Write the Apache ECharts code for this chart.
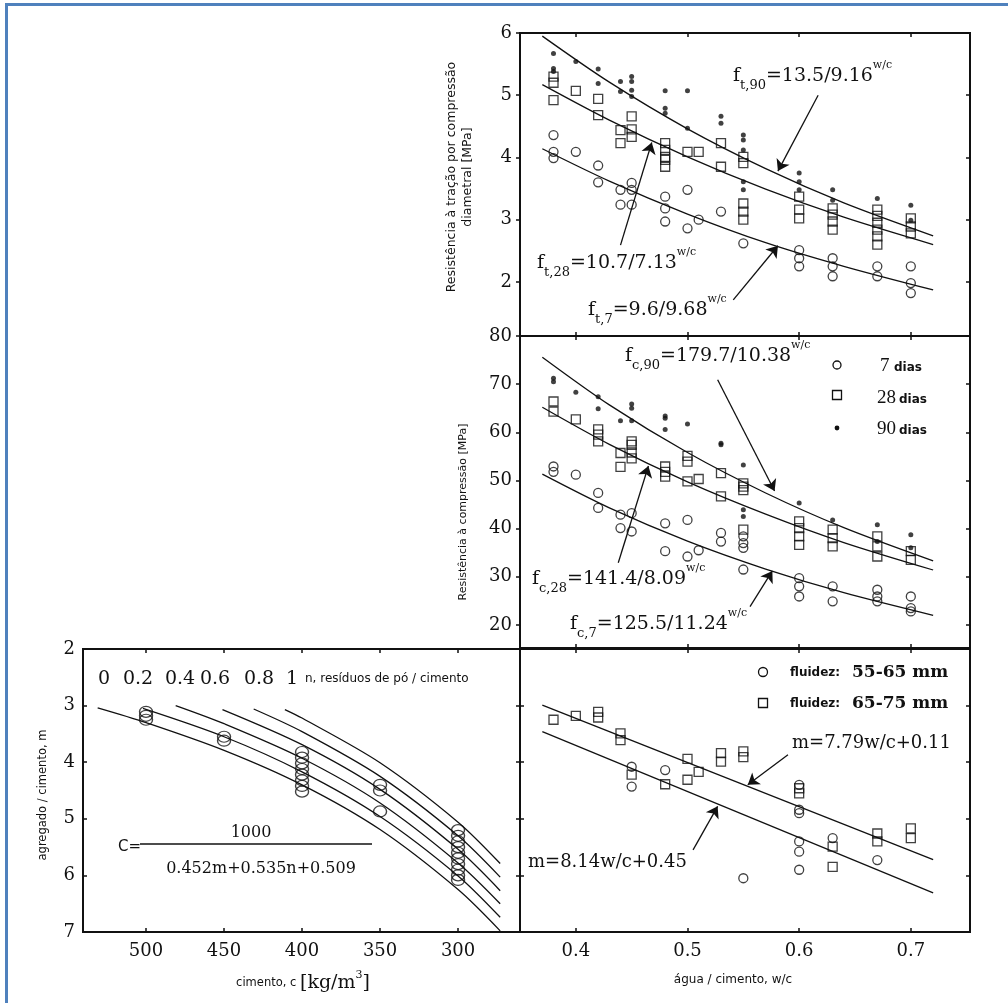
<!DOCTYPE html>
<html><head><meta charset="utf-8">
<script src="https://cdn.jsdelivr.net/npm/echarts@6/dist/echarts.min.js"></script>
<style>html,body{margin:0;padding:0;background:#fff}#c{width:1008px;height:1003px}</style>
</head><body><div id="c"></div>
<script>
// ---------- tick labels ----------
const wcTicks = [0.4, 0.5, 0.6, 0.7];
const tensileTicks = [2, 3, 4, 5, 6];
const compTicks = [20, 30, 40, 50, 60, 70, 80];
const mTicks = [2, 3, 4, 5, 6, 7];
const cementTicks = [300, 350, 400, 450, 500];
const nLabels = ['0', '0.2', '0.4', '0.6', '0.8', '1'];

// ---------- tensile strength (top panel) [w/c, MPa] ----------
const ft7 = [[0.38,4.36],[0.38,4.09],[0.38,3.99],[0.40,4.09],[0.42,3.87],[0.42,3.60],[0.44,3.48],[0.44,3.24],[0.45,3.59],[0.45,3.48],[0.45,3.24],[0.48,3.37],[0.48,3.18],[0.48,2.97],[0.50,3.48],[0.50,2.86],[0.51,3.00],[0.53,3.13],[0.55,2.62],[0.60,2.51],[0.60,2.38],[0.60,2.25],[0.63,2.38],[0.63,2.25],[0.63,2.09],[0.67,2.25],[0.67,2.09],[0.70,2.25],[0.70,1.98],[0.70,1.82]];
const ft28 = [[0.38,5.30],[0.38,5.20],[0.38,4.92],[0.40,5.07],[0.42,4.94],[0.42,4.68],[0.44,4.44],[0.44,4.23],[0.45,4.66],[0.45,4.45],[0.45,4.33],[0.48,4.23],[0.48,4.12],[0.48,4.01],[0.48,3.96],[0.48,3.85],[0.50,4.09],[0.51,4.09],[0.53,4.23],[0.53,3.85],[0.55,4.01],[0.55,3.91],[0.55,3.26],[0.55,3.13],[0.55,3.00],[0.60,3.37],[0.60,3.16],[0.60,3.02],[0.63,3.18],[0.63,3.08],[0.63,2.97],[0.63,2.84],[0.67,3.16],[0.67,3.06],[0.67,2.95],[0.67,2.84],[0.67,2.73],[0.67,2.60],[0.70,3.02],[0.70,2.89],[0.70,2.78]];
const ft90 = [[0.38,5.67],[0.38,5.43],[0.38,5.38],[0.40,5.54],[0.42,5.42],[0.42,5.19],[0.44,5.22],[0.44,5.06],[0.45,5.30],[0.45,5.22],[0.45,5.08],[0.45,4.98],[0.48,5.07],[0.48,4.79],[0.48,4.71],[0.50,5.07],[0.50,4.47],[0.53,4.66],[0.53,4.55],[0.55,4.36],[0.55,4.28],[0.55,4.12],[0.55,3.61],[0.55,3.48],[0.60,3.75],[0.60,3.61],[0.60,3.48],[0.63,3.48],[0.63,3.31],[0.67,3.34],[0.70,3.23],[0.70,2.99]];
const ft90Curve = [[0.37,5.95],[0.43,5.21],[0.50,4.46],[0.57,3.82],[0.64,3.27],[0.72,2.74]];
const ft28Curve = [[0.37,5.17],[0.43,4.60],[0.50,4.01],[0.57,3.49],[0.64,3.04],[0.72,2.60]];
const ft7Curve  = [[0.37,4.14],[0.43,3.62],[0.50,3.09],[0.57,2.63],[0.64,2.25],[0.72,1.87]];
const ftArrows = [[[0.617,5.00],[0.581,3.78]], [[0.440,2.59],[0.468,4.24]], [[0.541,1.71],[0.581,2.58]]];

// ---------- compressive strength (middle panel) ----------
const fc7 = [[0.38,52.9],[0.38,51.8],[0.40,51.2],[0.42,47.4],[0.42,44.3],[0.44,42.9],[0.44,40.1],[0.45,43.2],[0.45,39.4],[0.48,41.1],[0.48,35.3],[0.50,41.8],[0.50,34.2],[0.51,35.5],[0.53,39.1],[0.53,37.3],[0.55,38.4],[0.55,37.0],[0.55,36.0],[0.55,31.5],[0.60,29.7],[0.60,28.0],[0.60,25.9],[0.63,28.0],[0.63,24.9],[0.67,27.3],[0.67,25.9],[0.67,24.9],[0.70,25.9],[0.70,23.5],[0.70,22.8]];
const fc28 = [[0.38,66.4],[0.38,64.3],[0.40,62.7],[0.42,60.6],[0.42,59.5],[0.42,58.1],[0.44,55.7],[0.44,52.8],[0.45,58.1],[0.45,57.4],[0.45,55.8],[0.45,54.6],[0.48,52.9],[0.48,51.8],[0.48,50.8],[0.50,55.1],[0.50,53.9],[0.50,49.8],[0.51,50.3],[0.53,51.5],[0.53,46.7],[0.55,49.4],[0.55,48.7],[0.55,48.0],[0.55,39.8],[0.60,41.5],[0.60,40.1],[0.60,38.4],[0.60,36.6],[0.63,39.8],[0.63,38.0],[0.63,36.3],[0.67,38.4],[0.67,36.3],[0.67,34.2],[0.70,35.3],[0.70,33.5]];
const fc90 = [[0.38,71.2],[0.38,70.5],[0.40,68.3],[0.42,67.4],[0.42,64.9],[0.44,62.4],[0.45,65.9],[0.45,65.0],[0.45,62.4],[0.48,63.4],[0.48,62.9],[0.48,60.6],[0.50,61.7],[0.53,57.7],[0.53,57.4],[0.55,53.2],[0.55,43.9],[0.55,42.5],[0.60,45.3],[0.63,41.8],[0.67,40.8],[0.67,37.3],[0.70,38.7],[0.70,36.0]];
const fc90Curve = [[0.37,75.6],[0.43,65.7],[0.50,55.8],[0.57,47.4],[0.64,40.2],[0.72,33.3]];
const fc28Curve = [[0.37,65.2],[0.43,57.5],[0.50,49.7],[0.57,43.0],[0.64,37.1],[0.72,31.4]];
const fc7Curve  = [[0.37,51.3],[0.43,44.3],[0.50,37.4],[0.57,31.6],[0.64,26.7],[0.72,22.0]];
const fcArrows = [[[0.527,70.9],[0.578,47.8]], [[0.438,32.9],[0.465,53.0]], [[0.556,23.8],[0.576,31.2]]];

// ---------- aggregate/cement m vs w/c (bottom right) ----------
const m5565 = [[0.45,4.08],[0.45,4.43],[0.48,4.14],[0.55,6.05],[0.60,4.40],[0.60,4.84],[0.60,4.90],[0.60,5.40],[0.60,5.58],[0.60,5.90],[0.63,5.34],[0.67,5.73]];
const m6575 = [[0.38,3.25],[0.40,3.18],[0.42,3.11],[0.42,3.21],[0.44,3.49],[0.44,3.61],[0.45,4.22],[0.48,4.39],[0.50,3.94],[0.50,4.31],[0.51,4.17],[0.53,3.84],[0.53,3.99],[0.55,3.81],[0.55,3.91],[0.60,4.46],[0.60,4.55],[0.63,5.49],[0.63,5.85],[0.67,5.26],[0.67,5.40],[0.70,5.17],[0.70,5.34]];
const mUpperLine = [[0.37,2.99],[0.72,5.72]];
const mLowerLine = [[0.37,3.46],[0.72,6.31]];
const mArrows = [[[0.590,3.87],[0.554,4.40]], [[0.505,5.55],[0.527,4.78]]];

// ---------- m vs cement content (bottom left) ----------
const cementPoints = [[500,3.11],[500,3.18],[500,3.25],[450,3.55],[450,3.62],[400,3.82],[400,3.92],[400,4.02],[400,4.12],[400,4.22],[400,4.32],[400,4.42],[400,4.52],[350,4.40],[350,4.50],[350,4.87],[300,5.20],[300,5.30],[300,5.40],[300,5.50],[300,5.60],[300,5.70],[300,5.80],[300,5.90],[300,6.00],[300,6.08]];
const curveN0  = [[531,3.04],[500,3.30],[450,3.79],[400,4.40],[350,5.19],[300,6.25],[273,6.98]];
const curveN02 = [[502,3.05],[450,3.55],[400,4.17],[350,4.96],[300,6.01],[273,6.74]];
const curveN04 = [[481,3.00],[450,3.32],[400,3.93],[350,4.72],[300,5.78],[273,6.50]];
const curveN06 = [[451,3.07],[400,3.69],[350,4.48],[300,5.54],[273,6.27]];
const curveN08 = [[431,3.06],[400,3.46],[350,4.25],[300,5.30],[273,6.03]];
const curveN1  = [[411,3.07],[400,3.22],[350,4.01],[300,5.06],[273,5.79]];

// ================= build =================
const SERIF = 'DejaVu Serif', SERIF2 = 'Liberation Serif', SANS = 'DejaVu Sans', INK = '#111';
const grids = [
  {left:520, top:33, width:450, height:303},
  {left:520, top:336, width:450, height:312},
  {left:520, top:649, width:450, height:283},
  {left:83, top:649, width:437, height:283}
];
const labelFont = {fontFamily:SERIF, fontSize:18, color:INK};

function axis(o) {
  const a = {
    type:'value', min:o.min, max:o.max, inverse:!!o.inverse, gridIndex:o.grid, position:o.pos,
    splitLine:{show:false}, axisLine:{show:false},
    axisTick:{show:true, inside:o.outside?false:true, length:4, customValues:o.ticks, lineStyle:{color:INK, width:1.5}},
    axisLabel:{show:false}
  };
  if (o.labels) a.axisLabel = Object.assign({show:true, customValues:o.ticks, margin:o.margin||8}, labelFont);
  return a;
}
const WC = {min:0.35, max:0.753};
const xAxes = [
  axis({grid:0, pos:'bottom', ...WC, ticks:wcTicks}),
  axis({grid:0, pos:'top', ...WC, ticks:wcTicks}),
  axis({grid:1, pos:'bottom', ...WC, ticks:wcTicks}),
  axis({grid:1, pos:'top', ...WC, ticks:wcTicks}),
  axis({grid:2, pos:'bottom', ...WC, ticks:wcTicks, labels:true, margin:10}),
  axis({grid:2, pos:'top', ...WC, ticks:wcTicks}),
  axis({grid:3, pos:'bottom', min:260.3, max:540.4, inverse:true, ticks:cementTicks, labels:true, margin:10}),
  axis({grid:3, pos:'top', min:260.3, max:540.4, inverse:true, ticks:cementTicks})
];
const yAxes = [
  axis({grid:0, pos:'left', min:1.13, max:6, ticks:tensileTicks, labels:true, outside:true}),
  axis({grid:0, pos:'right', min:1.13, max:6, ticks:tensileTicks}),
  axis({grid:1, pos:'left', min:15.2, max:80, ticks:compTicks, labels:true, outside:true}),
  axis({grid:1, pos:'right', min:15.2, max:80, ticks:compTicks}),
  axis({grid:2, pos:'left', min:2, max:7, inverse:true, ticks:[3,4,5,6]}),
  axis({grid:2, pos:'right', min:2, max:7, inverse:true, ticks:[3,4,5,6]}),
  axis({grid:3, pos:'left', min:2, max:7, inverse:true, ticks:mTicks, labels:true}),
  axis({grid:3, pos:'right', min:2, max:7, inverse:true, ticks:[3,4,5,6]})
];

const hollow = {color:'rgba(0,0,0,0)', borderColor:INK, borderWidth:1.3};
function scatter(g, data, kind, size) {
  const s = {type:'scatter', xAxisIndex:2*g, yAxisIndex:2*g, data, silent:true, z:3};
  if (kind === 'circle') { s.symbol='circle'; s.symbolSize=size||9; s.itemStyle=hollow; }
  else if (kind === 'square') { s.symbol='rect'; s.symbolSize=size||9; s.itemStyle=hollow; }
  else { s.symbol='circle'; s.symbolSize=size||5; s.itemStyle={color:INK}; }
  return s;
}
function curve(g, data, arrow) {
  const s = {type:'line', xAxisIndex:2*g, yAxisIndex:2*g, data, symbol:'none', smooth:0.3, silent:true,
    color:INK, lineStyle:{color:INK, width:1.3}, z:2};
  if (arrow) s.markLine = {silent:true, animation:false, symbol:['none','arrow'], symbolSize:11,
    itemStyle:{color:INK},
    lineStyle:{color:INK, width:1.3, type:'solid'}, label:{show:false},
    data:[[{coord:arrow[0]},{coord:arrow[1]}]]};
  return s;
}
const series = [
  scatter(0, ft7, 'circle'), scatter(0, ft28, 'square'), scatter(0, ft90, 'dot'),
  curve(0, ft90Curve, ftArrows[0]), curve(0, ft28Curve, ftArrows[1]), curve(0, ft7Curve, ftArrows[2]),
  scatter(1, fc7, 'circle'), scatter(1, fc28, 'square'), scatter(1, fc90, 'dot'),
  curve(1, fc90Curve, fcArrows[0]), curve(1, fc28Curve, fcArrows[1]), curve(1, fc7Curve, fcArrows[2]),
  scatter(2, m5565, 'circle'), scatter(2, m6575, 'square'),
  curve(2, mUpperLine, mArrows[0]), curve(2, mLowerLine, mArrows[1]),
  scatter(3, cementPoints, 'circle', [13,11]),
  curve(3, curveN0), curve(3, curveN02), curve(3, curveN04), curve(3, curveN06), curve(3, curveN08), curve(3, curveN1)
];

// ---------- text annotations ----------
const eqRich = {
  a:{fontFamily:SERIF, fontSize:19, lineHeight:32, verticalAlign:'middle', fill:INK},
  s:{fontFamily:SERIF, fontSize:13, lineHeight:13, verticalAlign:'bottom', fill:INK},
  p:{fontFamily:SERIF, fontSize:11, lineHeight:11, verticalAlign:'top', fill:INK}
};
function eq(x, y, sub, main) {
  return {type:'text', x, y, z:100, silent:true, style:{text:`{a|f}{s|${sub}}{a|${main}}{p|w/c}`, rich:eqRich,
    align:'left', verticalAlign:'middle', textAlign:'left', textVerticalAlign:'middle'}};
}
function txt(x, y, text, family, size, extra) {
  return Object.assign({type:'text', x, y, z:100, silent:true, style:Object.assign({text, fontFamily:family, fontSize:size, fill:INK,
    align:'left', verticalAlign:'middle', textAlign:'left', textVerticalAlign:'middle'}, extra && extra.style || {})},
    extra && extra.el || {});
}
const center = {style:{align:'center', textAlign:'center'}};
const bold = {style:{fontWeight:'bold'}};
const graphic = [
  // outer blue frame
  {type:'line', shape:{x1:5, y1:4.5, x2:1008, y2:4.5}, style:{stroke:'#4f81bd', lineWidth:3}, silent:true},
  {type:'line', shape:{x1:6.5, y1:3, x2:6.5, y2:1003}, style:{stroke:'#4f81bd', lineWidth:3}, silent:true},
  // equations
  eq(733, 76, 't,90', '=13.5/9.16'),
  eq(537, 263, 't,28', '=10.7/7.13'),
  eq(588, 310, 't,7', '=9.6/9.68'),
  eq(625, 356, 'c,90', '=179.7/10.38'),
  eq(532, 579, 'c,28', '=141.4/8.09'),
  eq(570, 624, 'c,7', '=125.5/11.24'),
  txt(792, 743, 'm=7.79w/c+0.11', SERIF, 18),
  txt(528, 862, 'm=8.14w/c+0.45', SERIF, 18),
  // legend (middle panel)
  {type:'circle', shape:{cx:837, cy:365, r:4}, style:{fill:'none', stroke:INK, lineWidth:1.3}, z:100, silent:true},
  {type:'rect', shape:{x:832.5, y:390.5, width:9, height:9}, style:{fill:'none', stroke:INK, lineWidth:1.3}, z:100, silent:true},
  {type:'circle', shape:{cx:837, cy:428, r:2.4}, style:{fill:INK}, z:100, silent:true},
  txt(880, 366, '7', SERIF2, 19), txt(894, 368, 'dias', SANS, 12, bold),
  txt(877, 398, '28', SERIF2, 19), txt(899, 400, 'dias', SANS, 12, bold),
  txt(877, 429, '90', SERIF2, 19), txt(899, 431, 'dias', SANS, 12, bold),
  // legend (bottom right)
  {type:'circle', shape:{cx:763, cy:672, r:4.5}, style:{fill:'none', stroke:INK, lineWidth:1.3}, z:100, silent:true},
  {type:'rect', shape:{x:758.5, y:698.5, width:9, height:9}, style:{fill:'none', stroke:INK, lineWidth:1.3}, z:100, silent:true},
  txt(790, 673, 'fluidez:', SANS, 12, bold), txt(852, 673, '55-65 mm', SERIF, 17, bold),
  txt(790, 704, 'fluidez:', SANS, 12, bold), txt(852, 704, '65-75 mm', SERIF, 17, bold),
  // bottom-left annotations
  ...nLabels.map((t, i) => txt([104,138,180,215,259,292][i], 679, t, SERIF, 19, center)),
  txt(305, 679, 'n, resíduos de pó / cimento', SANS, 12),
  txt(118, 847, 'C=', SANS, 15),
  {type:'line', shape:{x1:140, y1:844, x2:372, y2:844}, style:{stroke:INK, lineWidth:1.6}, z:100, silent:true},
  txt(251, 833, '1000', SERIF, 16, center),
  txt(261, 869, '0.452m+0.535n+0.509', SERIF, 16, center),
  // axis titles
  txt(733, 980, 'água / cimento, w/c', SANS, 12, center),
  {type:'text', x:303, y:983, z:100, silent:true, style:{text:'{a|cimento, c }{b|[kg/m}{p|3}{b|]}', align:'center', verticalAlign:'middle', textAlign:'center', textVerticalAlign:'middle',
    rich:{a:{fontFamily:SANS, fontSize:11.5, lineHeight:26, verticalAlign:'middle', fill:INK},
          b:{fontFamily:SERIF, fontSize:19, lineHeight:26, verticalAlign:'middle', fill:INK},
          p:{fontFamily:SERIF, fontSize:11, lineHeight:11, verticalAlign:'top', fill:INK}}}},
  txt(43, 795, 'agregado / cimento, m', SANS, 11.5, {style:{align:'center', textAlign:'center'}, el:{rotation:Math.PI/2}}),
  txt(460, 177, 'Resistência à tração por compressão\ndiametral [MPa]', SANS, 12.5, {style:{align:'center', textAlign:'center', lineHeight:16}, el:{rotation:Math.PI/2}}),
  txt(463, 512, 'Resistência à compressão [MPa]', SANS, 11, {style:{align:'center', textAlign:'center'}, el:{rotation:Math.PI/2}})
];

const chart = echarts.init(document.getElementById('c'), null, {renderer:'canvas'});
chart.setOption({
  animation:false,
  backgroundColor:'#fff',
  grid: grids.map(g => Object.assign({show:true, borderColor:INK, borderWidth:2, backgroundColor:'rgba(0,0,0,0)'}, g)),
  xAxis: xAxes, yAxis: yAxes, series, graphic
});
</script></body></html>
